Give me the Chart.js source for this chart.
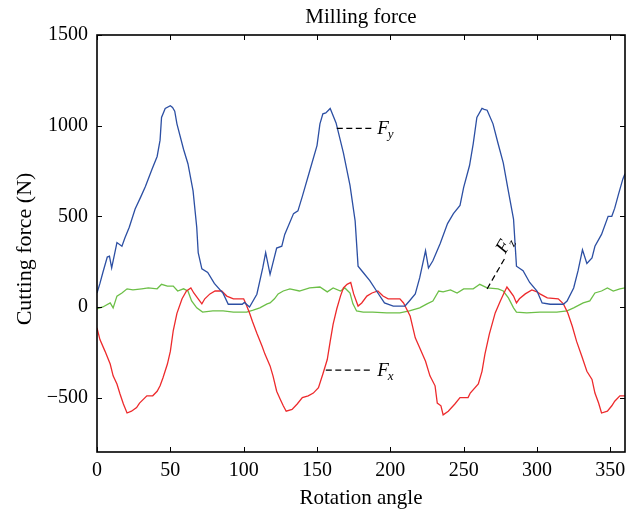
<!DOCTYPE html>
<html>
<head>
<meta charset="utf-8">
<script src="https://cdn.jsdelivr.net/npm/chart.js@4.4.1/dist/chart.umd.min.js"></script>
<style>
  html, body { margin: 0; padding: 0; background: #fff; }
  #wrap { width: 636px; height: 513px; }
</style>
</head>
<body>
<div id="wrap"><canvas id="forceChart" width="636" height="513"></canvas></div>
<script>
// values (rotation angle in degrees, force in N)
const fyAngle = [0, 2, 4, 7, 8.5, 10, 13.6, 17, 19, 22, 26, 30, 33, 37.5, 41, 43, 44, 46.5, 50, 51.5, 53, 54.5, 59, 62, 65.5, 68, 69, 71.5, 75.5, 80, 86, 89.5, 95, 99, 100.5, 104,
  109, 113, 115, 118, 122.5, 126, 128, 134, 137, 140, 145, 150, 152, 154, 156, 159, 163, 168, 172.5, 176, 178, 181.5, 186, 191.5, 196, 202, 210,
  213, 217, 220, 224, 226, 229, 234, 239, 243, 247.5, 250, 254, 256.5, 259, 262.5, 264, 266, 270, 273.5, 277, 280, 284, 286, 290.5, 295, 300, 303.5, 309, 318,
  320.5, 325, 328, 331, 334, 337.5, 339.5, 344, 348.5, 351, 353, 355.5, 358.5, 360];
const fyForce = [77, 130, 190, 275, 280, 215, 355, 335, 380, 440, 540, 610, 665, 760, 830, 920, 1045, 1095, 1110, 1100, 1080, 1010, 870, 790, 640, 440, 300, 210, 190, 130, 75, 15, 15, 15, 25, 0,
  70, 215, 300, 180, 325, 335, 400, 515, 530, 610, 750, 890, 1010, 1065, 1070, 1095, 1015, 850, 670, 475, 225, 190, 145, 77, 22, 5, 5,
  33, 72, 160, 310, 215, 255, 350, 460, 515, 560, 660, 780, 900, 1045, 1095, 1090, 1085, 1010, 900, 795, 660, 485, 225, 200, 135, 88, 22, 15, 15,
  33, 105, 200, 315, 240, 270, 335, 400, 500, 500, 545, 620, 705, 735];

const fxAngle = [0, 2, 5.5, 9, 11, 13.6, 15.7, 18, 20.5, 23.5, 27, 29, 34, 38, 41, 43, 45, 48, 50, 52, 54.5, 58, 61, 64, 66, 69, 71.5, 73.5, 77, 80.5, 85, 88.5, 93, 100, 101.5,
  104, 106, 109, 112.5, 114.5, 118, 120, 122.5, 125, 127, 129, 133, 136.5, 140, 144, 147.5, 151, 154, 157, 159, 161, 163.5, 166, 168, 170.5, 173, 175, 178, 180.5, 184, 187.5, 191.5, 195, 198.5, 206.5, 209,
  211, 213.5, 217, 220, 224, 227, 230.5, 232, 234.5, 236, 239.5, 244, 247.5, 253, 254.5, 260, 262.5, 264.5, 267.5, 271.5, 275, 277.5, 279.5, 281.5, 284, 286, 288, 292, 296.5, 300, 302, 307, 314.5, 318,
  321, 324, 327, 330.5, 334, 337.5, 339.5, 342, 344, 348, 351, 353, 356.5, 360];
const fxForce = [-115, -180, -245, -315, -380, -425, -480, -535, -585, -575, -555, -530, -490, -490, -465, -435, -390, -315, -245, -130, -35, 45, 88, 105, 77, 45, 17, 45, 72, 88, 88, 60, 45, 45, 17,
  -33, -80, -145, -215, -260, -325, -380, -465, -510, -545, -575, -565, -535, -500, -490, -475, -445, -370, -290, -190, -95, -10, 60, 105, 125, 135, 72, 5, 22, 60, 77, 88, 60, 45, 45, 22,
  -10, -50, -170, -225, -300, -380, -435, -530, -545, -595, -575, -535, -500, -500, -475, -425, -355, -260, -150, -33, 33, 77, 110, 88, 60, 22, 45, 72, 94, 83, 72, 50, 45, 17,
  -33, -105, -190, -270, -355, -400, -475, -530, -585, -575, -545, -520, -490, -490];

const fzAngle = [0, 4, 9, 11, 13.6, 17, 20.5, 24.5, 30.5, 35, 41, 44, 48, 52, 55, 59, 62, 64.5, 68, 72, 79, 86, 93, 102, 106.5, 111, 116,
  118, 121, 123.5, 127, 131.5, 138, 145, 152, 157, 161, 166, 169, 172.5, 174.5, 177, 181.5, 188, 197.5, 206.5, 213,
  220, 225, 229, 233, 236, 241, 245.5, 250, 256.5, 261, 266, 273.5, 277, 280.5, 284, 286, 293, 302, 313.5, 320.5,
  325, 331.5, 336, 339.5, 344, 348, 352, 356.5, 360];
const fzForce = [-10, 0, 22, -5, 60, 77, 100, 94, 100, 105, 100, 125, 115, 115, 88, 100, 88, 33, -5, -28, -22, -22, -28, -28, -17, -5, 17,
  22, 45, 72, 88, 100, 88, 105, 110, 83, 105, 88, 105, 77, 17, -22, -28, -28, -33, -33, -22,
  -5, 17, 33, 88, 83, 94, 77, 100, 100, 125, 105, 100, 88, 50, -5, -28, -33, -28, -28, -22,
  -5, 22, 33, 77, 88, 105, 88, 100, 105];

const xTicks = [0, 50, 100, 150, 200, 250, 300, 350];
const yTicks = [-500, 0, 500, 1000, 1500];

const serif = "'Liberation Serif', 'DejaVu Serif', serif";

function toPoints(xs, ys) {
    return xs.map((x, i) => ({ x: x, y: ys[i] }));
}

// frame with inward ticks, titles and the F labels
const frameAndLabels = {
    id: "frameAndLabels",
    afterDatasetsDraw(chart) {
        const { ctx, chartArea: a, scales: { x, y } } = chart;
        ctx.save();
        ctx.strokeStyle = "#000";
        ctx.lineWidth = 1;
        ctx.beginPath();
        xTicks.forEach(v => {
            const px = Math.round(x.getPixelForValue(v)) + 0.5;
            ctx.moveTo(px, a.bottom); ctx.lineTo(px, a.bottom - 5);
            ctx.moveTo(px, a.top); ctx.lineTo(px, a.top + 5);
        });
        yTicks.forEach(v => {
            const py = Math.round(y.getPixelForValue(v)) + 0.5;
            ctx.moveTo(a.left, py); ctx.lineTo(a.left + 5, py);
            ctx.moveTo(a.right, py); ctx.lineTo(a.right - 5, py);
        });
        ctx.stroke();
        ctx.lineWidth = 1.6;
        ctx.strokeRect(a.left, a.top, a.right - a.left, a.bottom - a.top);

        // titles
        ctx.fillStyle = "#000";
        ctx.textAlign = "center";
        ctx.textBaseline = "middle";
        ctx.font = "21px " + serif;
        ctx.fillText("Milling force", (a.left + a.right) / 2, 17);
        ctx.save();
        ctx.translate(25, 249);
        ctx.rotate(-Math.PI / 2);
        ctx.font = "22px " + serif;
        ctx.fillText("Cutting force (N)", 0, 0);
        ctx.restore();

        // dashed leaders
        ctx.lineWidth = 1.2;
        ctx.setLineDash([6, 3.5]);
        const lead = (x1, y1, x2, y2) => {
            ctx.beginPath();
            ctx.moveTo(x.getPixelForValue(x1), y.getPixelForValue(y1));
            ctx.lineTo(x.getPixelForValue(x2), y.getPixelForValue(y2));
            ctx.stroke();
        };
        lead(163.5, 985, 187.5, 985);
        lead(156, -348, 187.5, -348);
        lead(266, 100, 278, 268);
        ctx.setLineDash([]);

        const label = (sub, px, py, rot) => {
            ctx.save();
            ctx.translate(px, py);
            ctx.rotate(rot);
            ctx.textBaseline = "alphabetic";
            ctx.textAlign = "left";
            ctx.font = "italic 19px " + serif;
            ctx.fillText("F", 0, 0);
            const w = ctx.measureText("F").width;
            ctx.font = "italic 13px " + serif;
            ctx.fillText(sub, w - 1, 4);
            ctx.restore();
        };
        label("y", x.getPixelForValue(191), y.getPixelForValue(985) + 6, 0);
        label("x", x.getPixelForValue(191), y.getPixelForValue(-348) + 6, 0);
        label("z", x.getPixelForValue(278.3), y.getPixelForValue(290), -60 * Math.PI / 180);
        ctx.restore();
    }
};

new Chart(document.getElementById("forceChart").getContext("2d"), {
    type: "line",
    data: {
        datasets: [
            { label: "Fy", data: toPoints(fyAngle, fyForce), borderColor: "#2c4fa3", borderWidth: 1.3 },
            { label: "Fx", data: toPoints(fxAngle, fxForce), borderColor: "#ed2a2c", borderWidth: 1.3 },
            { label: "Fz", data: toPoints(fzAngle, fzForce), borderColor: "#6cbf47", borderWidth: 1.3 }
        ]
    },
    options: {
        responsive: false,
        animation: false,
        elements: { point: { radius: 0 }, line: { tension: 0 } },
        layout: { padding: { left: 0, right: 11, top: 35, bottom: 0 } },
        plugins: {
            legend: { display: false },
            tooltip: { enabled: false },
            title: { display: false }
        },
        scales: {
            x: {
                type: "linear",
                min: 0,
                max: 360,
                afterBuildTicks: s => { s.ticks = xTicks.map(v => ({ value: v })); },
                afterFit: s => { s.height = 61; },
                grid: { display: false, drawTicks: false },
                border: { display: false },
                ticks: { color: "#000", padding: 7, maxRotation: 0, font: { family: serif, size: 20 } },
                title: {
                    display: true,
                    text: "Rotation angle",
                    color: "#000",
                    font: { family: serif, size: 21 },
                    padding: { top: 0, bottom: 2 }
                }
            },
            y: {
                min: -800,
                max: 1500,
                afterBuildTicks: s => { s.ticks = yTicks.map(v => ({ value: v })); },
                afterFit: s => { s.width = 97; },
                grid: { display: false, drawTicks: false },
                border: { display: false },
                ticks: {
                    color: "#000",
                    padding: 9,
                    font: { family: serif, size: 20 },
                    callback: v => String(v).replace("-", "\u2212")
                }
            }
        }
    },
    plugins: [frameAndLabels]
});
</script>
</body>
</html>
